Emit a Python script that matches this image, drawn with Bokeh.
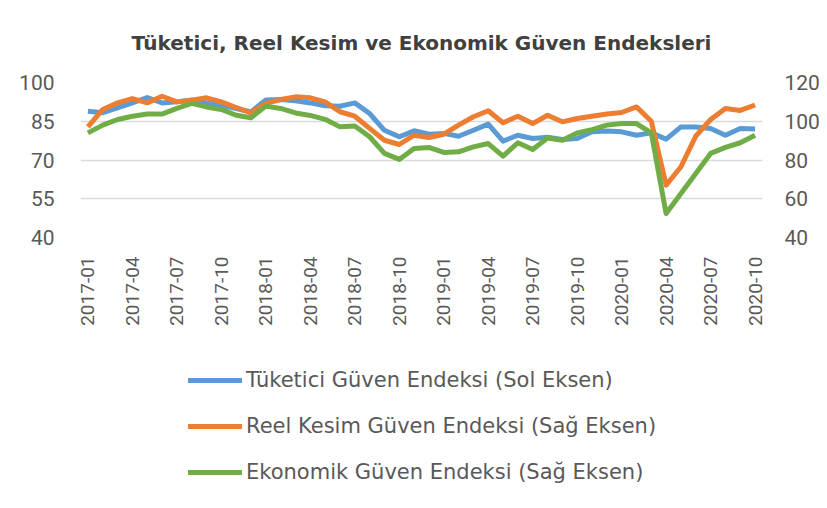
import math
from bokeh.plotting import figure
from bokeh.layouts import column
from bokeh.models import Range1d, LinearAxis, FixedTicker, Legend, LegendItem, ColumnDataSource
from bokeh.embed import file_html
from bokeh.resources import INLINE

months = [f"{y}-{m:02d}" for y in range(2017, 2021) for m in range(1, 13)][:46]
tick_idx = list(range(0, 46, 3))
tick_labels = ["2017-01", "2017-04", "2017-07", "2017-10", "2018-01", "2018-04", "2018-07", "2018-10",
               "2019-01", "2019-04", "2019-07", "2019-10", "2020-01", "2020-04", "2020-07", "2020-10"]

# Tüketici Güven Endeksi (Sol Eksen)
tuketici = [88.9, 88.3, 90.2, 92.1, 94.2, 92.1, 92.5, 93.2, 92.1, 91.2, 89.9, 88.6,
            93.2, 93.4, 92.9, 92.1, 91.0, 90.8, 92.1, 88.0, 81.5, 79.0, 81.3, 80.0,
            80.3, 79.2, 81.5, 83.9, 77.3, 79.6, 78.3, 78.8, 77.9, 78.3, 80.9, 81.2,
            80.9, 79.6, 80.5, 78.1, 82.8, 82.8, 82.2, 79.6, 82.2, 82.0]
# Reel Kesim Güven Endeksi (Sağ Eksen)
reel_kesim = [97.1, 106.1, 109.5, 111.7, 109.5, 112.9, 110.0, 110.9, 112.1, 110.0, 107.1, 104.3,
              109.2, 111.2, 112.6, 112.1, 110.0, 104.9, 102.6, 96.3, 90.2, 88.0, 92.8, 91.6,
              93.3, 98.0, 102.3, 105.4, 99.2, 102.6, 98.8, 103.1, 99.7, 101.4, 102.6, 103.7,
              104.5, 107.4, 100.0, 67.0, 76.5, 92.3, 100.9, 106.6, 105.6, 108.4]
# Ekonomik Güven Endeksi (Sağ Eksen)
ekonomik = [94.0, 98.0, 100.9, 102.6, 103.7, 103.7, 106.6, 109.2, 107.4, 106.1, 103.1, 101.8,
            107.8, 106.6, 104.3, 103.0, 101.0, 97.1, 97.6, 92.0, 83.4, 80.3, 85.9, 86.5,
            83.9, 84.2, 86.8, 88.5, 82.0, 88.9, 85.4, 91.4, 90.2, 94.0, 95.7, 98.0,
            98.8, 98.8, 94.0, 52.4, 62.7, 73.0, 83.4, 86.5, 88.9, 92.8]

series_names = ["Tüketici Güven Endeksi (Sol Eksen)",
                "Reel Kesim Güven Endeksi (Sağ Eksen)",
                "Ekonomik Güven Endeksi (Sağ Eksen)"]
series_cols = ["tuketici", "reel", "ekonomik"]
colors = ["#5B9BD5", "#ED7D31", "#70AD47"]

src = ColumnDataSource(dict(x=list(range(len(months))), month=months,
                            tuketici=tuketici, reel=reel_kesim, ekonomik=ekonomik))

FONT = "Roboto"
TFONT = "DejaVu Sans"
TXT = "#595959"
W = 822

p = figure(width=W, height=350, output_backend="svg", toolbar_location=None,
           x_range=Range1d(-0.5, 45.5), y_range=Range1d(40, 100),
           min_border_left=80, min_border_right=58, min_border_top=82, min_border_bottom=113)
p.extra_y_ranges = {"right": Range1d(40, 120)}
p.background_fill_color = "white"
p.border_fill_color = "white"
p.outline_line_color = None

p.title.text = "Tüketici, Reel Kesim ve Ekonomik Güven Endeksleri"
p.title.align = "center"
p.title.vertical_align = "middle"
p.title.text_font = TFONT
p.title.text_font_size = "20px"
p.title.text_font_style = "bold"
p.title.text_color = "#404040"
p.title.standoff = 54

r1 = p.line("x", "tuketici", source=src, line_color=colors[0], line_width=5, line_join="round")
r2 = p.line("x", "reel", source=src, line_color=colors[1], line_width=5, line_join="round",
            y_range_name="right")
r3 = p.line("x", "ekonomik", source=src, line_color=colors[2], line_width=5, line_join="round",
            y_range_name="right")

ax = p.xaxis[0]
ax.ticker = FixedTicker(ticks=tick_idx)
ax.major_label_overrides = {i: lab for i, lab in zip(tick_idx, tick_labels)}
ax.major_label_orientation = math.pi / 2
ax.major_label_standoff = 19

ly = p.yaxis[0]
ly.ticker = FixedTicker(ticks=[40, 55, 70, 85, 100])
ly.major_label_standoff = 26

ry = LinearAxis(y_range_name="right", ticker=FixedTicker(ticks=[40, 60, 80, 100, 120]))
ry.major_label_standoff = 22
p.add_layout(ry, "right")

for a in [ax, ly, ry]:
    a.axis_line_color = None
    a.major_tick_line_color = None
    a.minor_tick_line_color = None
    a.major_tick_out = 0
    a.major_tick_in = 0
    a.major_label_text_font = FONT
    a.major_label_text_color = TXT
ax.major_label_text_font_size = "19px"
ly.major_label_text_font_size = "21px"
ry.major_label_text_font_size = "21px"

p.xgrid.grid_line_color = None
p.ygrid.grid_line_color = "#d9d9d9"
p.ygrid.grid_line_width = 1.5
p.ygrid.ticker = FixedTicker(ticks=[40, 55, 70, 85, 100])

# legend panel (separate figure below the chart); its series lie outside its view range,
# only the legend swatches are visible
lg = figure(width=W, height=150, output_backend="svg", toolbar_location=None,
            x_axis_type=None, y_axis_type=None,
            x_range=Range1d(-0.5, 45.5), y_range=Range1d(0, 1),
            min_border_left=0, min_border_right=0, min_border_top=0, min_border_bottom=0)
lg.grid.visible = False
lg.outline_line_color = None
lg.background_fill_color = "white"
lg.border_fill_color = "white"
swatches = [lg.line("x", col, source=src, line_color=c, line_width=5, line_cap="round")
            for col, c in zip(series_cols, colors)]

legend = Legend(items=[LegendItem(label=n, renderers=[r]) for n, r in zip(series_names, swatches)],
                location=(108, 16), orientation="vertical")
legend.label_text_font = TFONT
legend.label_text_font_size = "21px"
legend.label_text_color = TXT
legend.glyph_width = 54
legend.glyph_height = 22
legend.label_height = 22
legend.label_standoff = 4
legend.spacing = 22
legend.padding = 4
legend.margin = 0
legend.border_line_color = None
legend.background_fill_alpha = 0
lg.add_layout(legend, "center")

layout = column(p, lg, spacing=0)
open("out.html", "w").write(file_html(layout, INLINE))
